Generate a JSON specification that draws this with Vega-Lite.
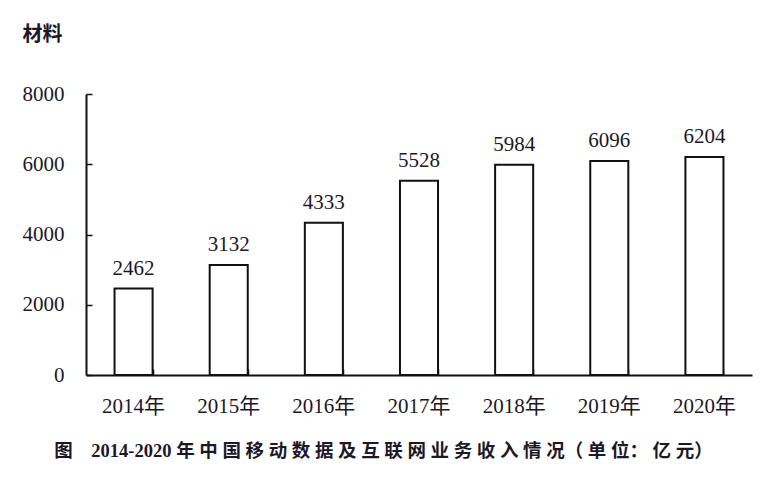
{
  "$schema": "https://vega.github.io/schema/vega-lite/v6.json",
  "width": 666,
  "height": 281,
  "autosize": {"type": "none"},
  "padding": {"left": 86, "top": 94, "right": 18, "bottom": 103},
  "background": "white",
  "config": {
    "view": {"stroke": null},
    "font": "Liberation Serif, Noto Sans CJK SC"
  },
  "data": {
    "values": [
      {"year": "2014年", "value": 2462},
      {"year": "2015年", "value": 3132},
      {"year": "2016年", "value": 4333},
      {"year": "2017年", "value": 5528},
      {"year": "2018年", "value": 5984},
      {"year": "2019年", "value": 6096},
      {"year": "2020年", "value": 6204}
    ]
  },
  "resolve": {"axis": {"x": "independent", "y": "independent"}},
  "layer": [
    {
      "mark": {"type": "bar", "fill": "white", "stroke": "#111", "strokeWidth": 2},
      "encoding": {
        "x": {
          "field": "year",
          "type": "nominal",
          "sort": null,
          "scale": {"paddingInner": 0.6, "paddingOuter": 0.3},
          "axis": {
            "orient": "bottom",
            "title": "图　2014-2020 年 中 国 移 动 数 据 及 互 联 网 业 务 收 入 情 况（ 单 位： 亿 元）",
            "titleFont": "Liberation Serif, Noto Sans CJK SC",
            "titleFontWeight": "bold",
            "titleFontSize": 18.5,
            "titleColor": "#1c1828",
            "titleX": 297,
            "titleY": 75,
            "titleAlign": "center",
            "titleBaseline": "middle",
            "labelAngle": 0,
            "labelFont": "Liberation Serif, Noto Sans CJK SC",
            "labelFontSize": 21,
            "labelColor": "#1c1828",
            "labelPadding": 20,
            "ticks": false,
            "domainColor": "#111",
            "domainWidth": 2
          }
        },
        "y": {
          "field": "value",
          "type": "quantitative",
          "scale": {"domain": [0, 8000]},
          "axis": {
            "orient": "left",
            "title": "材料",
            "titleAngle": 0,
            "titleX": -64,
            "titleY": -60,
            "titleAlign": "left",
            "titleBaseline": "middle",
            "titleFont": "Noto Sans CJK SC",
            "titleFontWeight": "bold",
            "titleFontSize": 20,
            "titleColor": "#1c1828",
            "values": [0, 2000, 4000, 6000, 8000],
            "format": "d",
            "grid": false,
            "labelFont": "Liberation Serif",
            "labelFontSize": 21,
            "labelColor": "#1c1828",
            "labelPadding": 22,
            "ticks": false,
            "domainColor": "#111",
            "domainWidth": 2
          }
        }
      }
    },
    {
      "mark": {"type": "text", "baseline": "alphabetic", "dy": -14, "fontSize": 21, "font": "Liberation Serif", "color": "#1c1828"},
      "encoding": {
        "x": {
          "field": "year",
          "type": "nominal",
          "sort": null,
          "axis": {
            "orient": "bottom",
            "offset": -6,
            "title": null,
            "labels": false,
            "domain": false,
            "ticks": true,
            "tickBand": "extent",
            "tickSize": 6,
            "tickColor": "#111",
            "tickWidth": 1.5
          }
        },
        "y": {
          "field": "value",
          "type": "quantitative",
          "axis": {
            "orient": "left",
            "offset": -6,
            "title": null,
            "labels": false,
            "domain": false,
            "grid": false,
            "values": [0, 2000, 4000, 6000, 8000],
            "ticks": true,
            "tickSize": 6,
            "tickColor": "#111",
            "tickWidth": 1.5
          }
        },
        "text": {"field": "value", "type": "quantitative", "format": "d"}
      }
    }
  ]
}
